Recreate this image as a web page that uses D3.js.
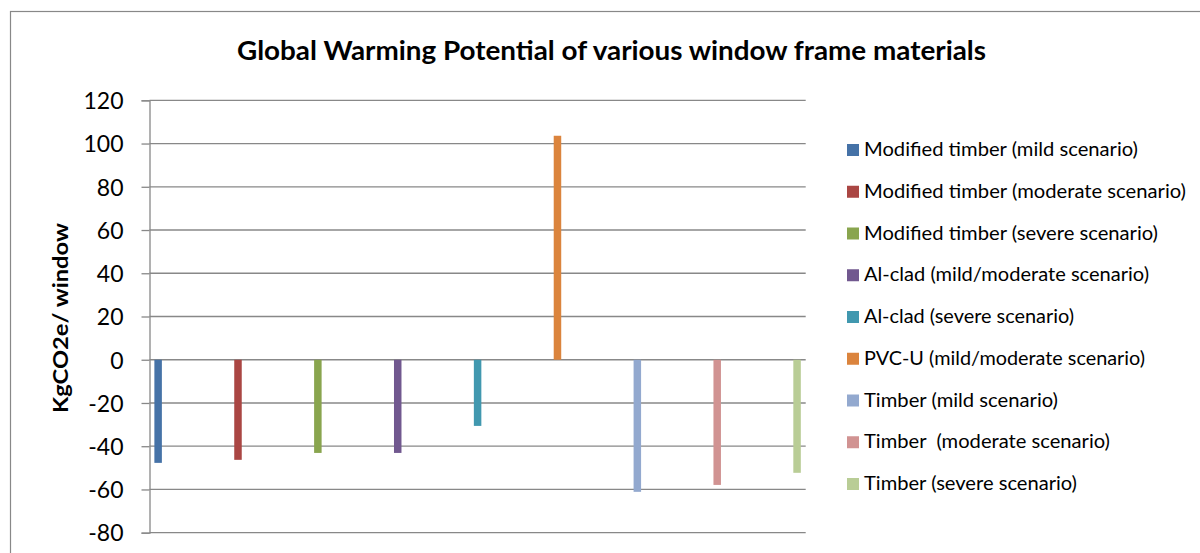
<!DOCTYPE html>
<html><head><meta charset="utf-8">
<script src="https://cdn.jsdelivr.net/npm/d3@7"></script>
<style>body{margin:0;background:#fff}svg{display:block}text{font-family:Lato,"Open Sans",sans-serif;fill:#000;white-space:pre}</style>
</head><body>
<svg id="c" width="1200" height="553"></svg>
<script>
const series = ["Modified timber (mild scenario)","Modified timber (moderate scenario)","Modified timber (severe scenario)","Al-clad (mild/moderate scenario)","Al-clad (severe scenario)","PVC-U (mild/moderate scenario)","Timber (mild scenario)","Timber  (moderate scenario)","Timber (severe scenario)"];
const values = [-47.7,-46.3,-43.1,-43.1,-30.6,103.6,-61.1,-57.9,-52.3];
const colors = ["#4572A7","#AA4643","#89A54E","#71588F","#4198AF","#DB843D","#93A9CF","#D19392","#B9CD96"];
const yTicks = [-80,-60,-40,-20,0,20,40,60,80,100,120];
const title = "Global Warming Potential of various window frame materials";
const yLabel = "KgCO2e/ window";

const svg = d3.select("#c");
svg.append("rect").attr("x",10.5).attr("y",11.5).attr("width",1300).attr("height",700)
  .attr("fill","none").attr("stroke","#888").attr("stroke-width",1.2);

const L=149.5, R=805.7, T=100.3, B=532.7;
const y = d3.scaleLinear().domain([-80,120]).range([B,T]);
const x = d3.scalePoint().domain(series).range([L,R]).padding(0.108);

svg.append("g").selectAll("line").data(yTicks).join("line")
  .attr("x1",L).attr("x2",R).attr("y1",d=>y(d)).attr("y2",d=>y(d))
  .attr("stroke","#888").attr("stroke-width",1.3);

const ax = svg.append("g").attr("transform",`translate(${L},0)`)
  .call(d3.axisLeft(y).tickValues(yTicks).tickSize(8).tickPadding(18).tickFormat(d=>String(d)));
ax.select(".domain").attr("stroke","#888").attr("stroke-width",1.3);
ax.selectAll(".tick line").attr("stroke","#888").attr("stroke-width",1.3);
ax.selectAll(".tick text").attr("font-size",23).attr("font-family","Lato").attr("fill","#000").attr("dy","0.36em");

const bw = 7.5;
svg.append("g").selectAll("rect").data(series).join("rect")
  .attr("x",(d)=>x(d)-bw/2).attr("width",bw)
  .attr("y",(d,i)=>y(Math.max(0,values[i])))
  .attr("height",(d,i)=>Math.abs(y(values[i])-y(0)))
  .attr("fill",(d,i)=>colors[i]);

svg.append("text").attr("x",611.5).attr("y",60).attr("text-anchor","middle")
  .attr("font-weight","bold").attr("font-size",26)
  .attr("textLength",749).attr("lengthAdjust","spacingAndGlyphs").text(title);

svg.append("text").attr("transform","translate(68,318) rotate(-90)").attr("text-anchor","middle")
  .attr("font-weight","bold").attr("font-size",21)
  .attr("textLength",190).attr("lengthAdjust","spacingAndGlyphs").text(yLabel);

const legendW = [274,322,294,285,210,281,194,246,213];
const row = svg.append("g").selectAll("g").data(series).join("g")
  .attr("transform",(d,i)=>`translate(847,${156+i*41.75})`);
row.append("rect").attr("x",0).attr("y",-12).attr("width",12).attr("height",12).attr("fill",(d,i)=>colors[i]);
row.append("text").attr("x",17).attr("y",0).attr("font-size",19.5)
  .attr("textLength",(d,i)=>legendW[i]).attr("lengthAdjust","spacingAndGlyphs").text(d=>d);
</script>
</body></html>
